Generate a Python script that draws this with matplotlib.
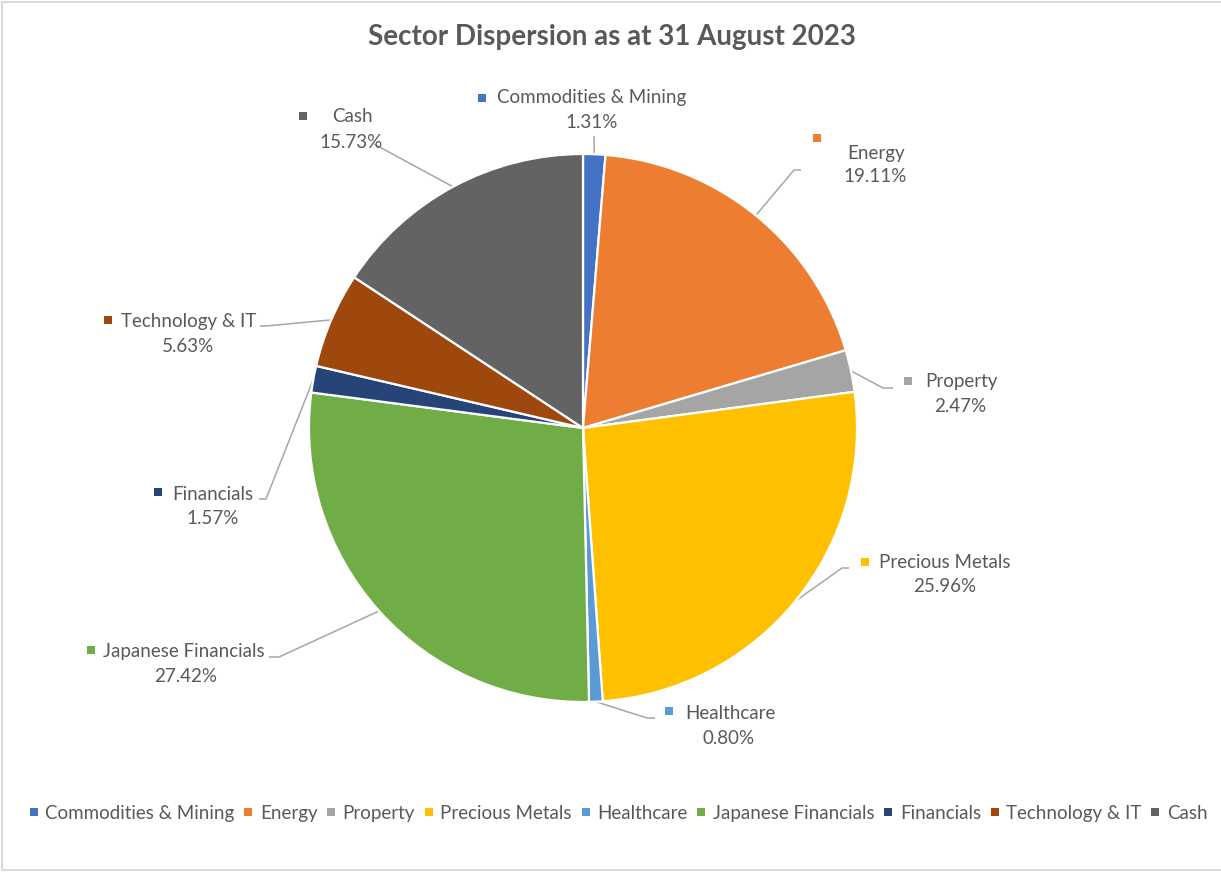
import matplotlib
matplotlib.use("Agg")
import matplotlib.pyplot as plt
import numpy as np
from matplotlib.lines import Line2D
from matplotlib.patches import Rectangle

plt.rcParams['font.family'] = ['Lato', 'DejaVu Sans']

# ---- data ----
categories = ["Commodities & Mining", "Energy", "Property", "Precious Metals",
              "Healthcare", "Japanese Financials", "Financials", "Technology & IT", "Cash"]
values = [1.31, 19.11, 2.47, 25.96, 0.80, 27.42, 1.57, 5.63, 15.73]
title = "Sector Dispersion as at 31 August 2023"

# ---- styles ----
colors = ["#4472C4", "#ED7D31", "#A5A5A5", "#FFC000", "#5B9BD5",
          "#70AD47", "#264478", "#9E480E", "#636363"]
text_color = "#595959"
leader_color = "#A6A6A6"

W, H = 1221, 872
fig = plt.figure(figsize=(W / 100, H / 100), dpi=100)
ax = fig.add_axes([0, 0, 1, 1])

def Y(py):
    return H - py

cx, cy, R = 583, 428, 274
wedges, _ = ax.pie(values, colors=colors, startangle=90, counterclock=False,
                   center=(cx, Y(cy)), radius=R,
                   wedgeprops=dict(edgecolor="white", linewidth=1.6))
ax.set_xlim(0, W)
ax.set_ylim(0, H)
ax.set_aspect('auto')
ax.axis('off')

# label layout (pixel coords): square (x,y), name left x, name y, pct center x, pct y, elbow points
layout = {
    "Commodities & Mining": dict(sq=(482, 98), nx=497, ny=98, px=592, py=123,
                                 elbow=[(594, 136)]),
    "Energy": dict(sq=(817, 138), nx=847, ny=153, px=875, py=177,
                   elbow=[(801, 170), (794, 170)]),
    "Property": dict(sq=(908, 381), nx=925, ny=382, px=960, py=407,
                     elbow=[(893, 388), (883, 388)]),
    "Precious Metals": dict(sq=(865, 562), nx=879, ny=562, px=945, py=587,
                            elbow=[(849, 568), (842, 568)]),
    "Healthcare": dict(sq=(669, 711), nx=685, ny=713, px=729, py=738,
                       elbow=[(655, 718), (647, 718)]),
    "Japanese Financials": dict(sq=(91, 650), nx=103, ny=651, px=186, py=676,
                                elbow=[(269, 657), (279, 657)]),
    "Financials": dict(sq=(158, 492), nx=172, ny=494, px=213, py=519,
                       elbow=[(259, 499), (266, 499)]),
    "Technology & IT": dict(sq=(108, 320), nx=121, ny=321, px=188, py=346,
                            elbow=[(260, 326), (266, 326)]),
    "Cash": dict(sq=(303, 116), nx=332, ny=117, px=351, py=142,
                 elbow=[(374, 144)]),
}

fs = 13.5
sq = 8
for w, cat, val, col in zip(wedges, categories, values, colors):
    L = layout[cat]
    mid = np.deg2rad((w.theta1 + w.theta2) / 2)
    ex, ey = cx + R * np.cos(mid), Y(cy) + R * np.sin(mid)
    xs = [p[0] for p in L["elbow"]] + [ex]
    ys = [Y(p[1]) for p in L["elbow"]] + [ey]
    ax.plot(xs, ys, color=leader_color, lw=1.1, solid_capstyle='butt', zorder=0.5)
    sx, sy = L["sq"]
    ax.add_patch(Rectangle((sx - sq / 2, Y(sy) - sq / 2), sq, sq, color=col, lw=0))
    ax.text(L["nx"], Y(L["ny"]), cat, fontsize=fs, color=text_color, ha='left', va='center')
    ax.text(L["px"], Y(L["py"]), f"{val:.2f}%", fontsize=fs, color=text_color,
            ha='center', va='center')

ax.text(612, Y(37), title, fontsize=20, fontweight='bold', color=text_color,
        ha='center', va='center')

# border
ax.add_patch(Rectangle((1.5, Y(870)), W + 5, 870 - 2.5, fill=False,
                       edgecolor="#D9D9D9", lw=1.5))

handles = [Line2D([], [], marker='s', linestyle='none', markersize=6,
                  markerfacecolor=c, markeredgewidth=0) for c in colors]
fig.legend(handles, categories, loc='center', bbox_to_anchor=(618 / W, 1 - 813 / H),
           ncol=len(categories), frameon=False, fontsize=fs, labelcolor=text_color,
           handlelength=0.55, handletextpad=0.35, columnspacing=0.45, borderpad=0)

fig.savefig("out.png", dpi=100)
